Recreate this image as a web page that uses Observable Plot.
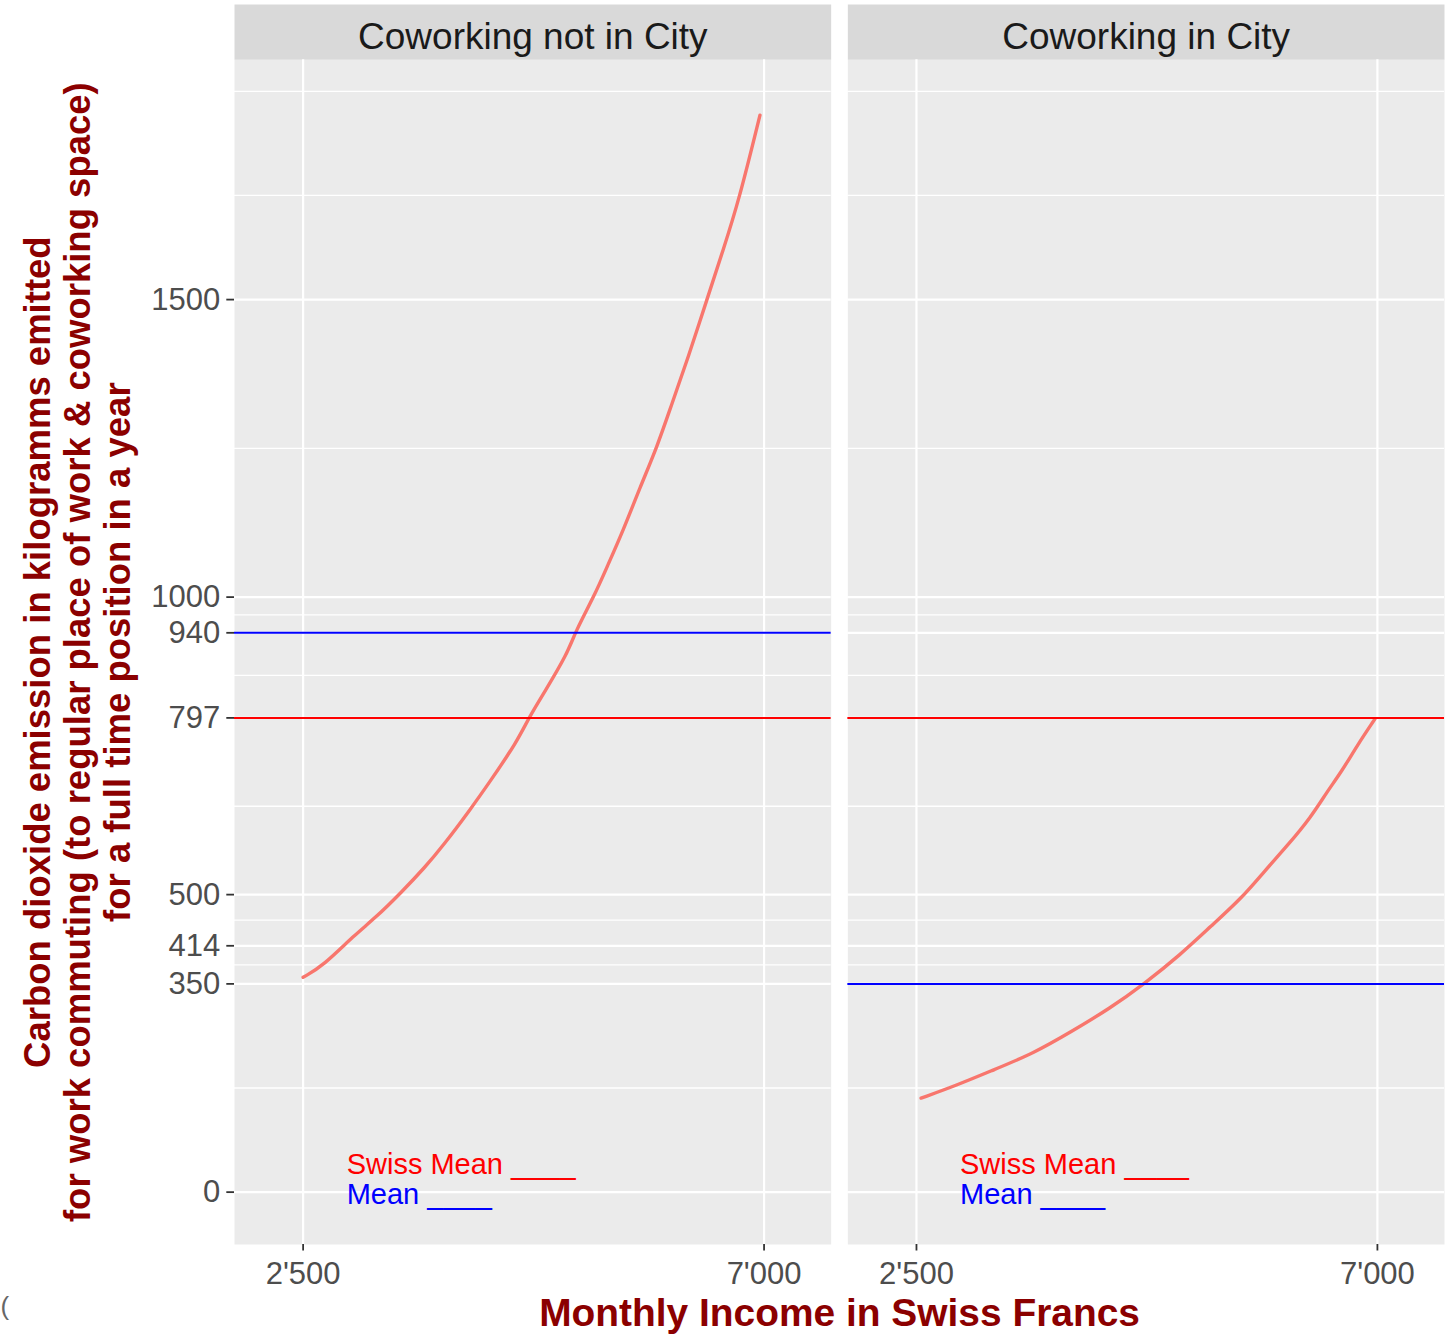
<!DOCTYPE html>
<html>
<head>
<meta charset="utf-8">
<script src="https://cdn.jsdelivr.net/npm/d3@7"></script>
<script src="https://cdn.jsdelivr.net/npm/@observablehq/plot@0.6"></script>
<style>
  html, body { margin: 0; padding: 0; background: #ffffff; }
  #chart svg { display: block; }
</style>
</head>
<body>
<div id="chart"></div>
<script>
// ---------- data ----------
const panels = ["Coworking not in City", "Coworking in City"];

const incomeNotInCity   = [2500, 2700, 3000, 3200, 3460, 3690, 3870, 4140, 4320, 4585, 4705, 4855, 5080, 5155, 5345, 5465, 5625, 5790, 5955, 6100, 6260, 6440, 6600, 6755, 6960];
const emissionNotInCity = [361, 381, 432, 460, 504, 546, 583, 645, 689, 756, 798, 840, 905, 941, 1003, 1050, 1112, 1185, 1252, 1325, 1403, 1499, 1583, 1667, 1810];

const incomeInCity   = [2545, 2885, 3260, 3640, 4015, 4390, 4730, 5070, 5375, 5675, 5900, 6130, 6350, 6505, 6655, 6800, 6975];
const emissionInCity = [158, 179, 206, 233, 270, 309, 351, 398, 447, 494, 540, 584, 630, 672, 708, 750, 795];

const panelMean = [940, 350];
const swissMean = 797;

const yTicks = [0, 350, 414, 500, 797, 940, 1000, 1500];
const xTicks = [2500, 7000];

const noteTexts = ["Swiss Mean ____", "Mean ____"];
const noteY = [50, 0];
const noteX = 2925;

const yTitle = "Carbon dioxide emission in kilogramms emitted\nfor work commuting (to regular place of work & coworking space)\nfor a full time position in a year";
const xTitle = "Monthly Income in Swiss Francs";

// ---------- derived tables ----------
const curve = [
  ...incomeNotInCity.map((x, i) => ({panel: panels[0], income: x, emission: emissionNotInCity[i]})),
  ...incomeInCity.map((x, i) => ({panel: panels[1], income: x, emission: emissionInCity[i]}))
];
const means = panels.map((p, i) => ({panel: p, value: panelMean[i]}));

const xDomain = [1830, 7655];
const yDomain = [-88, 1903];

// ggplot-like minor breaks (midpoints of the major breaks, extended by one step)
const yStep = yTicks[1] - yTicks[0];
const yExt = [yTicks[0] - yStep, ...yTicks, yTicks[yTicks.length - 1] + yStep];
const yMinor = [...d3.pairs(yExt, (a, b) => (a + b) / 2), ...yExt]
  .filter(v => v >= yDomain[0] && v <= yDomain[1] && !yTicks.includes(v));

const fmtX = d => d3.format(",")(d).replace(/,/g, "'");

const W = 1445, H = 1334;
const mTop = 59.3, mBottom = 90, mLeft = 234, mRight = 1;
const panelH = H - mTop - mBottom;

const plot = Plot.plot({
  width: W,
  height: H,
  marginTop: mTop,
  marginBottom: mBottom,
  marginLeft: mLeft,
  marginRight: mRight,
  style: {fontFamily: "'Liberation Sans', Arial, sans-serif", background: "#ffffff", overflow: "visible"},
  fx: {domain: panels, paddingInner: 0.0272, paddingOuter: 0, round: false, axis: null, label: null},
  x: {domain: xDomain},
  y: {domain: yDomain},
  marks: [
    // facet strips
    Plot.frame({fill: "#D9D9D9", insetTop: -55.3, insetBottom: panelH}),
    // panel background
    Plot.frame({fill: "#EBEBEB"}),
    // grid
    Plot.ruleY(yMinor, {stroke: "#ffffff", strokeWidth: 1.3}),
    Plot.ruleY(yTicks, {stroke: "#ffffff", strokeWidth: 2.2}),
    Plot.ruleX(xTicks, {stroke: "#ffffff", strokeWidth: 2.2}),
    // emission curve
    Plot.line(curve, {fx: "panel", x: "income", y: "emission", stroke: "#F8766D", strokeWidth: 3.4, curve: "basis"}),
    // reference lines
    Plot.ruleY(means, {fx: "panel", y: "value", stroke: "#0000FF", strokeWidth: 2}),
    Plot.ruleY([swissMean], {stroke: "#FF0000", strokeWidth: 2}),
    // in-panel notes
    Plot.text([noteTexts[0]], {x: () => noteX, y: () => noteY[0], text: d => d, textAnchor: "start", dy: 2, fontSize: 29, fill: "#FF0000"}),
    Plot.text([noteTexts[1]], {x: () => noteX, y: () => noteY[1], text: d => d, textAnchor: "start", dy: 3, fontSize: 29, fill: "#0000FF"}),
    // axes
    Plot.axisY(yTicks, {anchor: "left", facetAnchor: "left", tickSize: 7.7, tickPadding: 6.5, fontSize: 31, fill: "#4D4D4D", stroke: "#333333", strokeWidth: 1.8, tickFormat: d => String(d), label: null}),
    Plot.axisX(xTicks, {anchor: "bottom", tickSize: 6.5, tickPadding: 11, fontSize: 31, fill: "#4D4D4D", stroke: "#333333", strokeWidth: 1.8, tickFormat: fmtX, label: null}),
    // strip labels
    Plot.text(panels, {fx: d => d, text: d => d, frameAnchor: "top", textAnchor: "middle", lineAnchor: "bottom", dy: -11, fontSize: 37, fill: "#1A1A1A"}),
    // axis titles
    Plot.text([yTitle], {fx: () => panels[0], text: d => d, frameAnchor: "left", textAnchor: "middle", lineAnchor: "middle", rotate: -90, dx: -157, lineHeight: 1.1, fontSize: 36.5, fontWeight: "bold", fill: "#8B0000"}),
    Plot.text([xTitle], {fx: () => panels[0], text: d => d, frameAnchor: "bottom-right", textAnchor: "middle", lineAnchor: "bottom", dx: 8.4, dy: 81, fontSize: 38.9, fontWeight: "bold", fill: "#8B0000"}),
    // stray glyph at the lower-left edge of the reference
    Plot.text(["("], {fx: () => panels[0], text: d => d, frameAnchor: "bottom-left", textAnchor: "start", lineAnchor: "middle", dx: -234, dy: 62, fontSize: 26, fill: "#666666"})
  ]
});

document.getElementById("chart").appendChild(plot);
</script>
</body>
</html>
